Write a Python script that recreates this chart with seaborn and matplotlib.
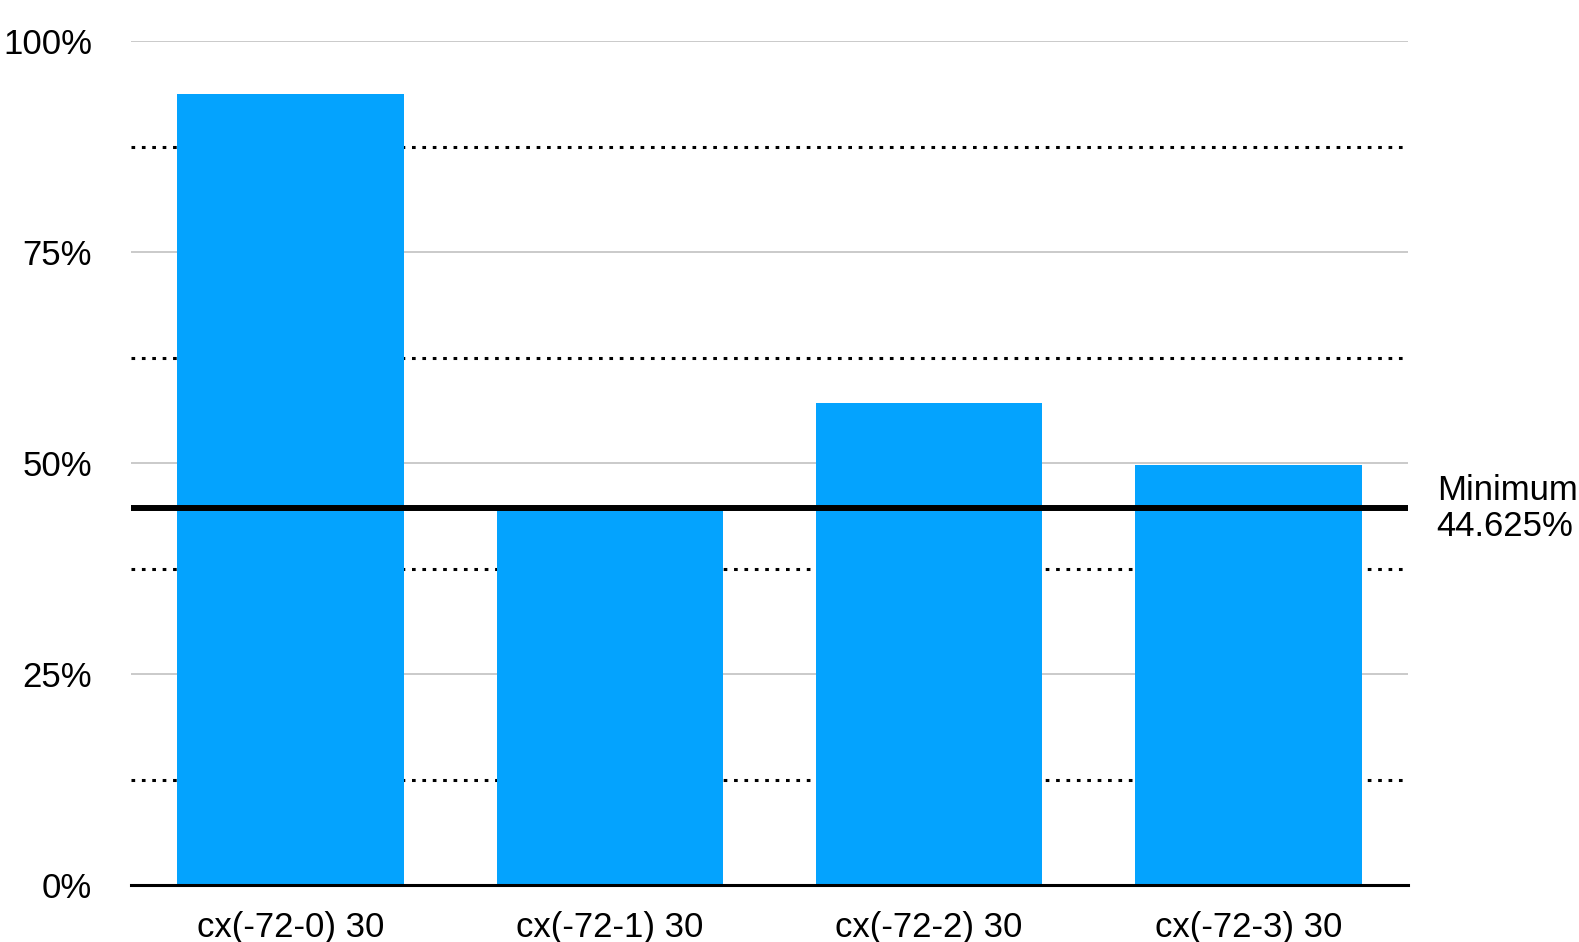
import pandas as pd
import matplotlib
matplotlib.use("Agg")
import matplotlib.pyplot as plt
import matplotlib.transforms as mtransforms
import seaborn as sns

# datos
categorias = ['cx(-72-0) 30', 'cx(-72-1) 30', 'cx(-72-2) 30', 'cx(-72-3) 30']
valores = [93.7, 44.625, 57.1, 49.8]
minimo = 44.625
ticks_y = [0, 25, 50, 75, 100]
etiquetas_y = ['0%', '25%', '50%', '75%', '100%']
ticks_punteados = [12.5, 37.5, 62.5, 87.5]

df = pd.DataFrame({'categoria': categorias, 'valor': valores})

sns.set_style('white')
plt.rcParams['font.family'] = ['Liberation Sans', 'DejaVu Sans']
plt.rcParams['text.color'] = 'black'
plt.rcParams['xtick.color'] = 'black'
plt.rcParams['ytick.color'] = 'black'

fig = plt.figure(figsize=(15.79, 9.42), dpi=100)
ax = fig.add_axes([0.083, 0.0605, 0.8087, 0.8957])

sns.barplot(data=df, x='categoria', y='valor', color='#04A3FE', saturation=1,
            width=0.71, ax=ax, zorder=2, linewidth=0)

ax.set_xlim(-0.5, 3.5)
ax.set_ylim(0, 100)
ax.set_yticks(ticks_y)
ax.set_yticklabels(etiquetas_y)
ax.set_yticks(ticks_punteados, minor=True)
ax.set_axisbelow(True)
ax.grid(axis='y', which='major', color='#c6c6c6', lw=1.3, zorder=0)
ax.grid(axis='y', which='minor', color='black', lw=2.2, linestyle=(0, (1.2, 2.2)), zorder=0)
ax.grid(axis='x', visible=False)

ax.tick_params(axis='both', which='both', length=0, labelsize=25, labelcolor='black')
ax.tick_params(axis='y', pad=28)
ax.tick_params(axis='x', pad=19)
ax.set_xlabel('')
ax.set_ylabel('')

for s in ['left', 'right', 'top']:
    ax.spines[s].set_visible(False)
ax.spines['bottom'].set_linewidth(2.2)
ax.spines['bottom'].set_color('black')
ax.spines['bottom'].set_zorder(4)

# linea del minimo
ax.axhline(minimo, color='black', lw=4.3, zorder=3)
trans = mtransforms.blended_transform_factory(ax.transAxes, ax.transData)
ax.text(1.0225, minimo, 'Minimum\n{:.3f}%'.format(minimo), transform=trans,
        ha='left', va='center', fontsize=25, linespacing=1.15, clip_on=False,
        color='black')

fig.savefig('out.png', dpi=100)
